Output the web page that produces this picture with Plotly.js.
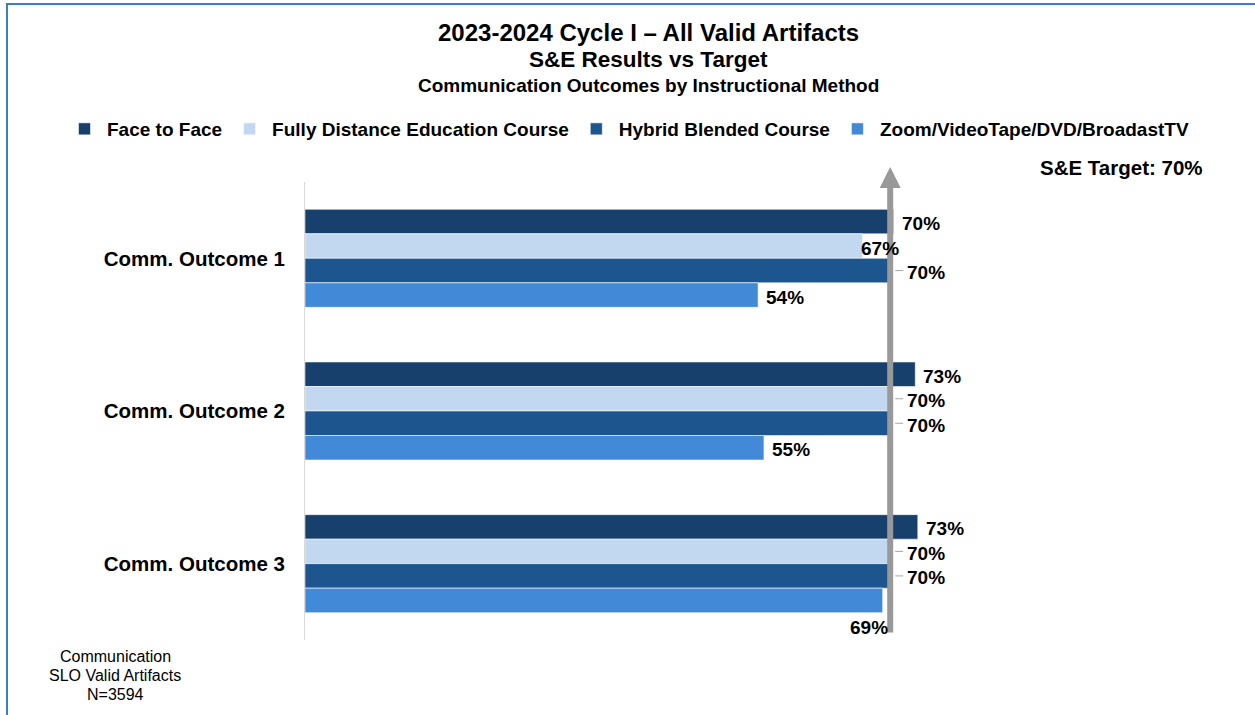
<!DOCTYPE html>
<html>
<head>
<meta charset="utf-8">
<script src="https://cdn.plot.ly/plotly-3.0.1.min.js"></script>
<style>
  html, body { margin: 0; padding: 0; background: #ffffff; }
  #wrap { position: relative; width: 1255px; height: 715px; overflow: hidden; }
  #chart { position: absolute; left: 0; top: 0; width: 1255px; height: 715px; }
  .bt { position: absolute; left: 6px; top: 3px; width: 1249px; height: 2px; background: #3C7DC4; }
  .bl { position: absolute; left: 6px; top: 3px; width: 2px; height: 712px; background: #3C7DC4; }
</style>
</head>
<body>
<div id="wrap">
  <div id="chart"></div>
  <div class="bt"></div>
  <div class="bl"></div>
</div>
<script>
// ---- data ----
const categories = ['Comm. Outcome 1', 'Comm. Outcome 2', 'Comm. Outcome 3'];
const seriesNames = ['Face to Face', 'Fully Distance Education Course', 'Hybrid Blended Course', 'Zoom/VideoTape/DVD/BroadastTV'];
const faceToFace = [70.4, 73.0, 73.3];
const fullyDistance = [66.7, 70.0, 70.0];
const hybridBlended = [70.0, 70.0, 70.0];
const zoomVideo = [54.2, 54.9, 69.1];
const targetValue = 70;
const titleLines = ['2023-2024 Cycle I \u2013 All Valid Artifacts', 'S&E Results vs Target', 'Communication Outcomes by Instructional Method'];
const targetLabel = 'S&E Target: 70%';
const footnote = ['Communication', 'SLO Valid Artifacts', 'N=3594'];

// ---- styling ----
const colors = ['#17406D', '#C2D8F0', '#1D568F', '#428AD8'];
const FONT = 'Liberation Sans, Arial, Helvetica, sans-serif';
const seriesValues = [faceToFace, fullyDistance, hybridBlended, zoomVideo];
const bargap = 0.358;
const nSeries = seriesValues.length;
const bw = (1 - bargap) / nSeries;

const traces = seriesValues.map((vals, i) => ({
  type: 'bar',
  orientation: 'h',
  name: seriesNames[i],
  y: categories,
  x: vals,
  marker: { color: colors[i], line: { color: 'rgba(255,255,255,0.55)', width: 1 } },
  hoverinfo: 'skip'
}));

const annotations = [];
const shapes = [];

// target arrow
annotations.push({
  xref: 'x', yref: 'paper', x: targetValue, y: (640 - 167) / 458,
  ax: 0, ay: 467, axref: 'pixel', ayref: 'pixel',
  text: '', showarrow: true, arrowhead: 2, arrowsize: 0.7, arrowwidth: 6,
  arrowcolor: '#999999', standoff: 0, startstandoff: 0
});

// data labels
seriesValues.forEach((vals, i) => {
  vals.forEach((v, c) => {
    const yPos = c - (1 - bargap) / 2 + (i + 0.5) * bw;
    const txt = Math.round(v) + '%';
    let a = {
      xref: 'x', yref: 'y', x: v, y: yPos, text: txt, showarrow: false,
      xanchor: 'left', yanchor: 'middle', xshift: 6, yshift: -2,
      font: { family: FONT, size: 19, color: '#000000', weight: 'bold' }
    };
    const diff = targetValue - v;
    if (Math.abs(diff) < 0.3) {
      a.xshift = 15;
      shapes.push({
        type: 'line', xref: 'x', yref: 'y', xsizemode: 'pixel', xanchor: v,
        x0: 5, x1: 13, y0: yPos, y1: yPos, line: { color: '#A6A6A6', width: 1 }
      });
    } else if (diff > 0 && diff < 4) {
      if (i === nSeries - 1) {
        a.xanchor = 'right'; a.xshift = 7; a.yshift = -27;
      } else {
        a.xshift = -4;
      }
    }
    annotations.push(a);
  });
});

// titles
const tY = [33, 60, 86];
const tS = [24, 22.5, 19];
titleLines.forEach((t, k) => {
  annotations.push({
    xref: 'paper', yref: 'paper', x: (648 - 305) / 836, y: (640 - tY[k]) / 458,
    xanchor: 'center', yanchor: 'middle', showarrow: false, text: t,
    font: { family: FONT, size: tS[k], color: '#000000', weight: 'bold' }
  });
});

annotations.push({
  xref: 'paper', yref: 'paper', x: (1205 - 305) / 836, y: (640 - 167) / 458,
  xanchor: 'right', yanchor: 'middle', showarrow: false, text: targetLabel,
  font: { family: FONT, size: 20.5, color: '#000000', weight: 'bold' }
});

const fY = [656, 675, 694];
footnote.forEach((t, k) => {
  annotations.push({
    xref: 'paper', yref: 'paper', x: (115 - 305) / 836, y: (640 - fY[k]) / 458,
    xanchor: 'center', yanchor: 'middle', showarrow: false, text: t,
    font: { family: FONT, size: 16, color: '#000000' }
  });
});

const layout = {
  width: 1255, height: 715,
  margin: { l: 305, r: 114, t: 182, b: 75, pad: 0 },
  paper_bgcolor: 'rgba(0,0,0,0)', plot_bgcolor: 'rgba(0,0,0,0)',
  barmode: 'group', bargap: bargap, bargroupgap: 0,
  showlegend: true,
  legend: {
    orientation: 'h', x: (62 - 305) / 836, xanchor: 'left',
    y: (640 - 129) / 458, yanchor: 'middle',
    itemwidth: 35,
    font: { family: FONT, size: 19, color: '#000000', weight: 'bold' },
    traceorder: 'normal', itemclick: false, itemdoubleclick: false
  },
  xaxis: {
    range: [0, 100], showgrid: false, zeroline: false, showline: false,
    showticklabels: false, ticks: '', fixedrange: true
  },
  yaxis: {
    type: 'category', autorange: 'reversed', showgrid: false, zeroline: false,
    showline: true, linecolor: '#D9D9D9', linewidth: 1, ticks: '',
    ticklabelstandoff: 15,
    tickfont: { family: FONT, size: 20.5, color: '#000000', weight: 'bold' },
    fixedrange: true
  },
  annotations: annotations,
  shapes: shapes,
  font: { family: FONT }
};

Plotly.newPlot('chart', traces, layout, { displayModeBar: false, staticPlot: true });
</script>
</body>
</html>
